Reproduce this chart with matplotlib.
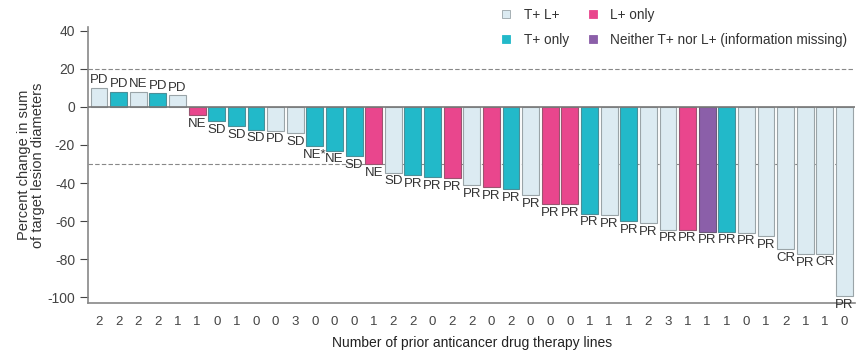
import matplotlib.pyplot as plt
from matplotlib.patches import Patch
import numpy as np

plt.rcParams['font.family'] = ['Liberation Sans', 'DejaVu Sans']
plt.rcParams['axes.unicode_minus'] = False

# percent change per patient (waterfall order)
change = [10, 8, 8, 7, 6, -4.5, -7.5, -10, -12, -12.5, -14, -20.5, -23, -26, -30,
          -34.5, -36, -37, -37.5, -41, -42, -43, -46.5, -51, -51, -56, -57, -60,
          -61, -64.5, -64.5, -65.5, -65.5, -66, -68, -74.5, -77.5, -77, -99.5]
# L = T+ L+, T = T+ only, P = L+ only, N = neither
group = ['L', 'T', 'L', 'T', 'L', 'P', 'T', 'T', 'T', 'L', 'L', 'T', 'T', 'T', 'P',
         'L', 'T', 'T', 'P', 'L', 'P', 'T', 'L', 'P', 'P', 'T', 'L', 'T',
         'L', 'L', 'P', 'N', 'T', 'L', 'L', 'L', 'L', 'L', 'L']
response = ['PD', 'PD', 'NE', 'PD', 'PD', 'NE', 'SD', 'SD', 'SD', 'PD', 'SD', 'NE*', 'NE',
            'SD', 'NE', 'SD', 'PR', 'PR', 'PR', 'PR', 'PR', 'PR', 'PR', 'PR', 'PR', 'PR',
            'PR', 'PR', 'PR', 'PR', 'PR', 'PR', 'PR', 'PR', 'PR', 'CR', 'PR', 'CR', 'PR']
prior_lines = [2, 2, 2, 2, 1, 1, 0, 1, 0, 0, 3, 0, 0, 0, 1, 2, 2, 0, 2, 2, 0, 2, 0, 0,
               0, 1, 1, 1, 2, 3, 1, 1, 1, 0, 1, 2, 1, 1, 0]

colors = {'L': '#dcebf2', 'T': '#22b9c9', 'P': '#e9468d', 'N': '#8b5fa9'}
edges = {'L': '#9aa4a8', 'T': '#4b8f98', 'P': '#9a5570', 'N': '#6b5a7a'}
names = {'L': 'T+ L+', 'T': 'T+ only', 'P': 'L+ only', 'N': 'Neither T+ nor L+ (information missing)'}

fig = plt.figure(figsize=(8.57, 3.52), dpi=100)
ax = fig.add_axes([0.103, 0.139, 0.895, 0.785])

x = np.arange(len(change))
ax.bar(x, change, width=0.86, color=[colors[g] for g in group],
       edgecolor=[edges[g] for g in group], linewidth=0.8, zorder=3)

for xi, v, r in zip(x, change, response):
    if v > 0:
        ax.annotate(r, (xi, v), xytext=(0, 1), textcoords='offset points',
                    ha='center', va='bottom', fontsize=9.5, color='#333333')
    else:
        ax.annotate(r, (xi, v), xytext=(0, -2), textcoords='offset points',
                    ha='center', va='top', fontsize=9.5, color='#333333')

ax.axhline(0, color='#777777', lw=1.2, zorder=4)
ax.axhline(20, color='#888888', lw=0.8, ls=(0, (4, 2)), zorder=1)
ax.axhline(-30, color='#888888', lw=0.8, ls=(0, (4, 2)), zorder=1)

ax.set_xlim(-0.55, len(change) - 0.45)
ax.set_ylim(-103, 42)
ax.set_yticks(np.arange(-100, 41, 20))
ax.set_xticks(x)
ax.set_xticklabels([str(v) for v in prior_lines])
ax.tick_params(axis='x', length=0, pad=9, labelsize=9.5, colors='#444444')
ax.tick_params(axis='y', length=6, width=0.8, labelsize=10, colors='#444444')
for s in ['top', 'right']:
    ax.spines[s].set_visible(False)
for s in ['left', 'bottom']:
    ax.spines[s].set_color('#888888')
    ax.spines[s].set_linewidth(1.2)

ax.set_xlabel('Number of prior anticancer drug therapy lines', fontsize=10, color='#222222', labelpad=6)
ax.set_ylabel('Percent change in sum\nof target lesion diameters', fontsize=10.5, color='#333333',
              linespacing=1.0, labelpad=2)

handles = [Patch(facecolor=colors[k], edgecolor=edges[k] if k == 'L' else colors[k], linewidth=0.6,
                 label=names[k]) for k in ['L', 'T', 'P', 'N']]
fig.legend(handles=handles, ncol=2, loc='upper right', bbox_to_anchor=(1.003, 1.012), frameon=False,
           fontsize=9.8, handlelength=0.55, handleheight=0.55, handletextpad=1.0,
           columnspacing=1.5, labelspacing=0.8, labelcolor='#333333')

fig.savefig('out.png', dpi=100)
